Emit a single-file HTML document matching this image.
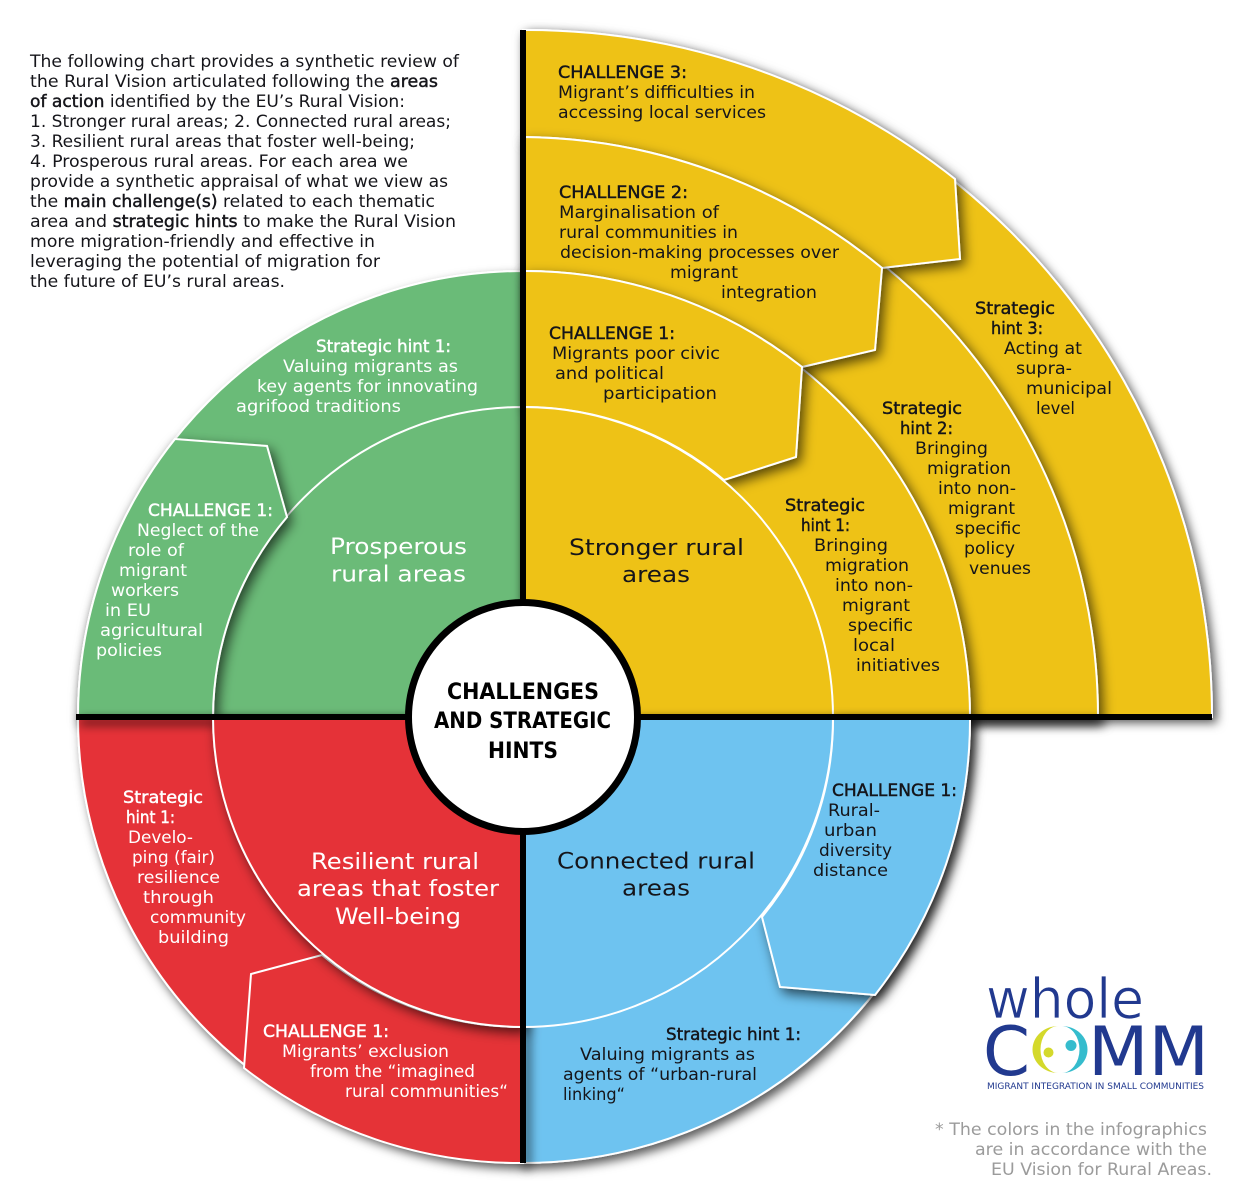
<!DOCTYPE html>
<html lang="en"><head><meta charset="utf-8"><title>Challenges and strategic hints</title>
<style>
html,body{margin:0;padding:0;background:#fff;width:1241px;height:1202px;overflow:hidden}
svg{display:block}
text{font-family:"DejaVu Sans","Liberation Sans",sans-serif;font-size:17px;fill:#15151a}
.w text{fill:#fff}
.m{stroke:#15151a;stroke-width:.45px}
.w .m{stroke:#fff}
.big{font-size:22.5px}
.c{font-weight:bold;font-size:22px;fill:#000}
.g text{fill:#9b9b9b}
.s{stroke:#fff;stroke-width:2;stroke-linejoin:miter}
.y{fill:#eec216}.gr{fill:#6bbb78}.r{fill:#e53337}.bl{fill:#6ec3f0}
</style></head><body>
<svg width="1241" height="1202" viewBox="0 0 1241 1202" xmlns="http://www.w3.org/2000/svg">
<defs>
<filter id="sh" x="-20%" y="-20%" width="140%" height="140%"><feDropShadow dx="4" dy="5" stdDeviation="6" flood-color="#000" flood-opacity=".65"/></filter>
<filter id="sl" x="-20%" y="-20%" width="140%" height="140%"><feDropShadow dx="4" dy="5" stdDeviation="5" flood-color="#000" flood-opacity=".65"/></filter>
</defs>

<!-- green -->
<path class="gr s" filter="url(#sl)" d="M523 717L78 717A445 446 0 0 1 523 271Z"/>
<path class="gr s" d="M523 717L213 717A310 310 0 0 1 523 407Z"/>
<path class="gr s" filter="url(#sh)" d="M78 717A445 446 0 0 1 175 439L267 446L287 517A310 310 0 0 0 213 717Z"/>

<!-- yellow base -->
<path class="y s" filter="url(#sl)" d="M523 717L523 30A689 687 0 0 1 1212 717Z"/>
<path class="y s" filter="url(#sh)" d="M523 717L523 137A575 580 0 0 1 1098 717Z"/>
<path class="y s" filter="url(#sh)" d="M523 717L523 271A447 446 0 0 1 970 717Z"/>
<path class="y s" filter="url(#sh)" d="M523 30A689 687 0 0 1 955 179L960 259L882 268A575 580 0 0 0 523 137Z"/>
<path class="y s" filter="url(#sh)" d="M523 137A575 580 0 0 1 882 268L875 350L802 367A447 446 0 0 0 523 271Z"/>
<path class="y s" filter="url(#sh)" d="M523 271A447 446 0 0 1 802 367L796 457L724 480A310 310 0 0 0 523 407Z"/>
<path class="y s" d="M523 717L523 407A310 310 0 0 1 833 717Z"/>

<!-- red and blue outer -->
<path class="r s" filter="url(#sl)" d="M523 717L78 717A445 446 0 0 0 523 1163Z"/>
<path class="bl s" filter="url(#sl)" d="M523 717L970 717A447 446 0 0 1 523 1163Z"/>

<!-- line shadows -->
<g filter="url(#sl)"><rect x="76" y="714" width="1024" height="6" fill="#000"/><rect x="520" y="717" width="6" height="446" fill="#000"/></g>

<!-- red detail -->
<path class="r s" d="M244 1068L251 974L322 955A310 310 0 0 0 523 1027L523 1163A445 446 0 0 1 244 1068Z"/>
<path class="r s" filter="url(#sh)" d="M523 717L213 717A310 310 0 0 0 523 1027Z"/>
<!-- blue detail -->
<path class="bl s" filter="url(#sh)" d="M833 717L970 717A447 446 0 0 1 875 995L780 987L762 917A310 310 0 0 0 833 717Z"/>
<path class="bl s" d="M523 717L833 717A310 310 0 0 1 523 1027Z"/>

<!-- axes -->
<rect x="520" y="30" width="6" height="1133" fill="#000"/>
<rect x="76" y="714" width="1136" height="6" fill="#000"/>
<circle cx="523" cy="717" r="114.5" fill="#fff" stroke="#000" stroke-width="7"/>

<!-- intro -->
<g>
<text x="30" y="67" textLength="429" lengthAdjust="spacingAndGlyphs">The following chart provides a synthetic review of</text>
<text x="30" y="87" textLength="408" lengthAdjust="spacingAndGlyphs">the Rural Vision articulated following the <tspan class="m">areas</tspan></text>
<text x="30" y="107" textLength="375" lengthAdjust="spacingAndGlyphs"><tspan class="m">of action</tspan> identified by the EU’s Rural Vision:</text>
<text x="30" y="127" textLength="421" lengthAdjust="spacingAndGlyphs">1. Stronger rural areas; 2. Connected rural areas;</text>
<text x="30" y="147" textLength="385" lengthAdjust="spacingAndGlyphs">3. Resilient rural areas that foster well-being;</text>
<text x="30" y="167" textLength="378" lengthAdjust="spacingAndGlyphs">4. Prosperous rural areas. For each area we</text>
<text x="30" y="187" textLength="418" lengthAdjust="spacingAndGlyphs">provide a synthetic appraisal of what we view as</text>
<text x="30" y="207" textLength="405" lengthAdjust="spacingAndGlyphs">the <tspan class="m">main challenge(s)</tspan> related to each thematic</text>
<text x="30" y="227" textLength="426" lengthAdjust="spacingAndGlyphs">area and <tspan class="m">strategic hints</tspan> to make the Rural Vision</text>
<text x="30" y="247" textLength="345" lengthAdjust="spacingAndGlyphs">more migration-friendly and effective in</text>
<text x="30" y="267" textLength="350" lengthAdjust="spacingAndGlyphs">leveraging the potential of migration for</text>
<text x="30" y="287" textLength="255" lengthAdjust="spacingAndGlyphs">the future of EU’s rural areas.</text>
</g>

<!-- yellow text -->
<g>
<text class="m" x="558" y="78" textLength="129" lengthAdjust="spacingAndGlyphs">CHALLENGE 3:</text>
<text x="558" y="98" textLength="197" lengthAdjust="spacingAndGlyphs">Migrant’s difficulties in</text>
<text x="558" y="118" textLength="208" lengthAdjust="spacingAndGlyphs">accessing local services</text>
<text class="m" x="559" y="198" textLength="129" lengthAdjust="spacingAndGlyphs">CHALLENGE 2:</text>
<text x="559" y="218" textLength="160" lengthAdjust="spacingAndGlyphs">Marginalisation of</text>
<text x="559" y="238" textLength="179" lengthAdjust="spacingAndGlyphs">rural communities in</text>
<text x="560" y="258" textLength="279" lengthAdjust="spacingAndGlyphs">decision-making processes over</text>
<text x="670" y="278" textLength="68" lengthAdjust="spacingAndGlyphs">migrant</text>
<text x="721" y="298" textLength="96" lengthAdjust="spacingAndGlyphs">integration</text>
<text class="m" x="549" y="339" textLength="126" lengthAdjust="spacingAndGlyphs">CHALLENGE 1:</text>
<text x="552" y="359" textLength="168" lengthAdjust="spacingAndGlyphs">Migrants poor civic</text>
<text x="555" y="379" textLength="109" lengthAdjust="spacingAndGlyphs">and political</text>
<text x="603" y="399" textLength="114" lengthAdjust="spacingAndGlyphs">participation</text>
<text class="big" x="569" y="555" textLength="175" lengthAdjust="spacingAndGlyphs">Stronger rural</text>
<text class="big" x="622" y="582" textLength="68" lengthAdjust="spacingAndGlyphs">areas</text>

<text class="m" x="785" y="511" textLength="80" lengthAdjust="spacingAndGlyphs">Strategic</text>
<text class="m" x="801" y="531" textLength="49" lengthAdjust="spacingAndGlyphs">hint 1:</text>
<text x="814" y="551" textLength="74" lengthAdjust="spacingAndGlyphs">Bringing</text>
<text x="825" y="571" textLength="84" lengthAdjust="spacingAndGlyphs">migration</text>
<text x="835" y="591" textLength="78" lengthAdjust="spacingAndGlyphs">into non-</text>
<text x="842" y="611" textLength="68" lengthAdjust="spacingAndGlyphs">migrant</text>
<text x="848" y="631" textLength="65" lengthAdjust="spacingAndGlyphs">specific</text>
<text x="853" y="651" textLength="42" lengthAdjust="spacingAndGlyphs">local</text>
<text x="856" y="671" textLength="84" lengthAdjust="spacingAndGlyphs">initiatives</text>

<text class="m" x="882" y="414" textLength="80" lengthAdjust="spacingAndGlyphs">Strategic</text>
<text class="m" x="900" y="434" textLength="53" lengthAdjust="spacingAndGlyphs">hint 2:</text>
<text x="915" y="454" textLength="73" lengthAdjust="spacingAndGlyphs">Bringing</text>
<text x="927" y="474" textLength="84" lengthAdjust="spacingAndGlyphs">migration</text>
<text x="938" y="494" textLength="78" lengthAdjust="spacingAndGlyphs">into non-</text>
<text x="948" y="514" textLength="67" lengthAdjust="spacingAndGlyphs">migrant</text>
<text x="955" y="534" textLength="66" lengthAdjust="spacingAndGlyphs">specific</text>
<text x="964" y="554" textLength="51" lengthAdjust="spacingAndGlyphs">policy</text>
<text x="969" y="574" textLength="62" lengthAdjust="spacingAndGlyphs">venues</text>

<text class="m" x="975" y="314" textLength="80" lengthAdjust="spacingAndGlyphs">Strategic</text>
<text class="m" x="991" y="334" textLength="52" lengthAdjust="spacingAndGlyphs">hint 3:</text>
<text x="1004" y="354" textLength="78" lengthAdjust="spacingAndGlyphs">Acting at</text>
<text x="1016" y="374" textLength="56" lengthAdjust="spacingAndGlyphs">supra-</text>
<text x="1026" y="394" textLength="86" lengthAdjust="spacingAndGlyphs">municipal</text>
<text x="1036" y="414" textLength="39" lengthAdjust="spacingAndGlyphs">level</text>
</g>

<!-- green text -->
<g class="w">
<text class="m" x="316" y="352" textLength="135" lengthAdjust="spacingAndGlyphs">Strategic hint 1:</text>
<text x="283" y="372" textLength="175" lengthAdjust="spacingAndGlyphs">Valuing migrants as</text>
<text x="257" y="392" textLength="221" lengthAdjust="spacingAndGlyphs">key agents for innovating</text>
<text x="236" y="412" textLength="165" lengthAdjust="spacingAndGlyphs">agrifood traditions</text>
<text class="m" x="148" y="516" textLength="125" lengthAdjust="spacingAndGlyphs">CHALLENGE 1:</text>
<text x="137" y="536" textLength="122" lengthAdjust="spacingAndGlyphs">Neglect of the</text>
<text x="128" y="556" textLength="56" lengthAdjust="spacingAndGlyphs">role of</text>
<text x="119" y="576" textLength="68" lengthAdjust="spacingAndGlyphs">migrant</text>
<text x="111" y="596" textLength="68" lengthAdjust="spacingAndGlyphs">workers</text>
<text x="105" y="616" textLength="46" lengthAdjust="spacingAndGlyphs">in EU</text>
<text x="100" y="636" textLength="103" lengthAdjust="spacingAndGlyphs">agricultural</text>
<text x="96" y="656" textLength="66" lengthAdjust="spacingAndGlyphs">policies</text>
<text class="big" x="330" y="554" textLength="137" lengthAdjust="spacingAndGlyphs">Prosperous</text>
<text class="big" x="331" y="581.5" textLength="135" lengthAdjust="spacingAndGlyphs">rural areas</text>
</g>

<!-- red text -->
<g class="w">
<text class="m" x="123" y="803" textLength="80" lengthAdjust="spacingAndGlyphs">Strategic</text>
<text class="m" x="126" y="823" textLength="49" lengthAdjust="spacingAndGlyphs">hint 1:</text>
<text x="128" y="843" textLength="65" lengthAdjust="spacingAndGlyphs">Develo-</text>
<text x="132" y="863" textLength="83" lengthAdjust="spacingAndGlyphs">ping (fair)</text>
<text x="137" y="883" textLength="83" lengthAdjust="spacingAndGlyphs">resilience</text>
<text x="143" y="903" textLength="71" lengthAdjust="spacingAndGlyphs">through</text>
<text x="150" y="923" textLength="96" lengthAdjust="spacingAndGlyphs">community</text>
<text x="158" y="943" textLength="71" lengthAdjust="spacingAndGlyphs">building</text>
<text class="big" x="311" y="869" textLength="168" lengthAdjust="spacingAndGlyphs">Resilient rural</text>
<text class="big" x="297" y="896" textLength="202" lengthAdjust="spacingAndGlyphs">areas that foster</text>
<text class="big" x="335" y="924" textLength="126" lengthAdjust="spacingAndGlyphs">Well-being</text>
<text class="m" x="263" y="1037" textLength="126" lengthAdjust="spacingAndGlyphs">CHALLENGE 1:</text>
<text x="282" y="1057" textLength="167" lengthAdjust="spacingAndGlyphs">Migrants’ exclusion</text>
<text x="310" y="1077" textLength="165" lengthAdjust="spacingAndGlyphs">from the “imagined</text>
<text x="345" y="1097" textLength="163" lengthAdjust="spacingAndGlyphs">rural communities“</text>
</g>

<!-- blue text -->
<g>
<text class="m" x="832" y="796" textLength="125" lengthAdjust="spacingAndGlyphs">CHALLENGE 1:</text>
<text x="828" y="816" textLength="52" lengthAdjust="spacingAndGlyphs">Rural-</text>
<text x="824" y="836" textLength="53" lengthAdjust="spacingAndGlyphs">urban</text>
<text x="819" y="856" textLength="73" lengthAdjust="spacingAndGlyphs">diversity</text>
<text x="813" y="876" textLength="75" lengthAdjust="spacingAndGlyphs">distance</text>
<text class="big" x="557" y="868.5" textLength="198" lengthAdjust="spacingAndGlyphs">Connected rural</text>
<text class="big" x="622" y="895.5" textLength="68" lengthAdjust="spacingAndGlyphs">areas</text>
<text class="m" x="666" y="1040" textLength="135" lengthAdjust="spacingAndGlyphs">Strategic hint 1:</text>
<text x="580" y="1060" textLength="175" lengthAdjust="spacingAndGlyphs">Valuing migrants as</text>
<text x="563" y="1080" textLength="194" lengthAdjust="spacingAndGlyphs">agents of “urban-rural</text>
<text x="563" y="1100" textLength="62" lengthAdjust="spacingAndGlyphs">linking“</text>
</g>

<!-- centre -->
<text class="c" x="447" y="699" textLength="152" lengthAdjust="spacingAndGlyphs">CHALLENGES</text>
<text class="c" x="434" y="728" textLength="177" lengthAdjust="spacingAndGlyphs">AND STRATEGIC</text>
<text class="c" x="488" y="758" textLength="70" lengthAdjust="spacingAndGlyphs">HINTS</text>

<!-- logo -->
<text x="986" y="1018" textLength="158" lengthAdjust="spacingAndGlyphs" style="font-size:55px;fill:#21398f;stroke:#fff;stroke-width:.8px">whole</text>
<text x="983" y="1075" textLength="47" lengthAdjust="spacingAndGlyphs" style="font-size:68px;fill:#21398f">C</text>
<path d="M1058.5 1026A26 23.5 0 0 0 1058.5 1073A18 23.5 0 0 1 1058.5 1026Z" fill="#d4d92b"/>
<path d="M1061.5 1026A26 23.5 0 0 1 1061.5 1073A18 23.5 0 0 0 1061.5 1026Z" fill="#35bccd"/>
<circle cx="1048.5" cy="1052.5" r="5" fill="#d4d92b"/>
<circle cx="1071" cy="1045.5" r="5.5" fill="#35bccd"/>
<text x="1088" y="1075" textLength="121" lengthAdjust="spacingAndGlyphs" style="font-size:68px;fill:#21398f">MM</text>
<text x="987" y="1089" textLength="217" lengthAdjust="spacingAndGlyphs" style="font-size:9px;fill:#21398f">MIGRANT INTEGRATION IN SMALL COMMUNITIES</text>

<!-- note -->
<g class="g">
<text x="935" y="1135" textLength="272" lengthAdjust="spacingAndGlyphs">* The colors in the infographics</text>
<text x="975" y="1155" textLength="232" lengthAdjust="spacingAndGlyphs">are in accordance with the</text>
<text x="991" y="1175" textLength="221" lengthAdjust="spacingAndGlyphs">EU Vision for Rural Areas.</text>
</g>
</svg>
</body></html>
